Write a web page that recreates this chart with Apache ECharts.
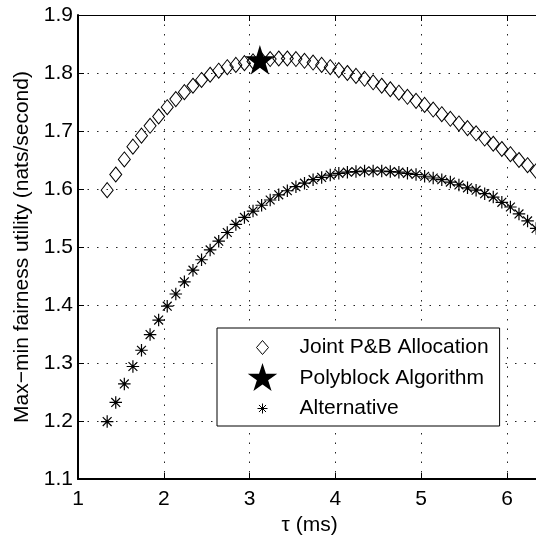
<!DOCTYPE html>
<html>
<head>
<meta charset="utf-8">
<script src="https://cdn.jsdelivr.net/npm/echarts@6/dist/echarts.min.js"></script>
<style>
  html, body { margin: 0; padding: 0; background: #fff; }
  #chart { width: 536px; height: 539px; }
</style>
</head>
<body>
<div id="chart"></div>
<script>
// Frame length tau (ms) at which each scheme was evaluated
const tau = [
  1.34, 1.44, 1.54, 1.64, 1.74, 1.84, 1.94, 2.04, 2.14, 2.24,
  2.34, 2.44, 2.54, 2.64, 2.74, 2.84, 2.94, 3.04, 3.14, 3.24,
  3.34, 3.44, 3.54, 3.64, 3.74, 3.84, 3.94, 4.04, 4.14, 4.24,
  4.34, 4.44, 4.54, 4.64, 4.74, 4.84, 4.94, 5.04, 5.14, 5.24,
  5.34, 5.44, 5.54, 5.64, 5.74, 5.84, 5.94, 6.04, 6.14, 6.24,
  6.34
];

// Max-min fairness utility (nats/second), joint power & bandwidth allocation
const jointPB = [
  1.598, 1.625, 1.651, 1.673, 1.692, 1.709, 1.725, 1.741, 1.755, 1.767,
  1.778, 1.788, 1.797, 1.804, 1.810, 1.814, 1.817, 1.820, 1.822, 1.824,
  1.825, 1.825, 1.824, 1.821, 1.818, 1.814, 1.810, 1.805, 1.800, 1.795,
  1.790, 1.784, 1.778, 1.772, 1.766, 1.759, 1.752, 1.745, 1.737, 1.729,
  1.721, 1.713, 1.705, 1.696, 1.687, 1.678, 1.669, 1.660, 1.650, 1.641,
  1.631
];

// Max-min fairness utility (nats/second), alternative scheme
const alternative = [
  1.199, 1.232, 1.264, 1.294, 1.322, 1.349, 1.374, 1.398, 1.419, 1.440,
  1.460, 1.478, 1.495, 1.510, 1.525, 1.539, 1.551, 1.562, 1.572, 1.581,
  1.590, 1.597, 1.604, 1.610, 1.616, 1.620, 1.624, 1.627, 1.629, 1.630,
  1.631, 1.631, 1.631, 1.630, 1.629, 1.627, 1.625, 1.622, 1.619, 1.616,
  1.612, 1.607, 1.602, 1.598, 1.592, 1.586, 1.577, 1.569, 1.557, 1.545,
  1.532
];

// Optimum found by the polyblock algorithm: [tau, utility]
const polyblockTau = [3.12];
const polyblockUtility = [1.820];

// Axis ranges and tick steps
const xRange = [1, 6.4];
const xStep = 1;
const yRange = [1.1, 1.9];
const yStep = 0.1;

const seriesNames = ['Joint P&B Allocation', 'Polyblock Algorithm', 'Alternative'];
const xName = '\u03c4 (ms)';
const yName = 'Max\u2212min fairness utility (nats/second)';

const FONT = '"Liberation Sans", Arial, Helvetica, sans-serif';

// Marker shapes
const starPath = 'path://M100 200M100 0L122.45 69.1L195.1 69.1L136.3 111.8L158.8 180.9L100 138.2L41.2 180.9L63.7 111.8L4.9 69.1L77.55 69.1Z';
const asteriskPath = 'path://M0 5L10 5M5 0L5 10M1.46 1.46L8.54 8.54M8.54 1.46L1.46 8.54';

// Legend icons drawn inside a fixed 66x30 box so all rows line up
const legendDiamond = 'path://M0 0M66 30M28 15L34 8L40 15L34 22Z';
const legendStar = 'path://M0 0M66 30M34 0L37.48 10.71L48.74 10.71L39.63 17.33L43.11 28.04L34 21.42L24.89 28.04L28.37 17.33L19.26 10.71L30.52 10.71Z';
const legendAsterisk = 'path://M0 0M66 30M29 15L39 15M34 10L34 20M30.46 11.46L37.54 18.54M37.54 11.46L30.46 18.54';

const chart = echarts.init(document.getElementById('chart'), null, { renderer: 'canvas' });

const dotted = { color: '#222', width: 1, type: [1.5, 8] };

chart.setOption({
  animation: false,
  backgroundColor: '#fff',
  textStyle: { fontFamily: FONT },
  grid: { left: 78, top: 15, right: -5.3, bottom: 60, outerBoundsMode: 'none', containLabel: false },
  xAxis: [
    {
      type: 'value', min: xRange[0], max: xRange[1], interval: xStep,
      name: xName, nameLocation: 'middle', nameGap: 27,
      nameTextStyle: { fontFamily: FONT, fontSize: 21, color: '#000' },
      axisLine: { show: true, lineStyle: { color: '#000', width: 2 } },
      axisTick: { show: true, inside: true, length: 6, lineStyle: { color: '#000', width: 1 } },
      axisLabel: {
        fontFamily: FONT, fontSize: 21, color: '#000', margin: 10,
        showMinLabel: true, showMaxLabel: true,
        formatter: v => (Math.abs(v - Math.round(v)) < 1e-9 ? String(Math.round(v)) : '')
      },
      splitLine: { show: true, lineStyle: dotted }
    },
    {
      type: 'value', position: 'top', min: xRange[0], max: xRange[1], interval: xStep,
      axisLine: { show: true, lineStyle: { color: '#000', width: 1 } },
      axisTick: { show: true, inside: true, length: 6, lineStyle: { color: '#000', width: 1 } },
      axisLabel: { show: false },
      splitLine: { show: false }
    }
  ],
  yAxis: {
    type: 'value', min: yRange[0], max: yRange[1], interval: yStep,
    name: yName, nameLocation: 'middle', nameGap: 45,
    nameTextStyle: { fontFamily: FONT, fontSize: 21, color: '#000' },
    axisLine: { show: true, lineStyle: { color: '#000', width: 2 } },
    axisTick: { show: true, inside: true, length: 6, lineStyle: { color: '#000', width: 1 } },
    axisLabel: {
      fontFamily: FONT, fontSize: 21, color: '#000', margin: 5,
      showMinLabel: true, showMaxLabel: true,
      formatter: v => v.toFixed(1)
    },
    splitLine: { show: true, lineStyle: dotted }
  },
  legend: {
    orient: 'vertical', left: 217, top: 328,
    padding: [4, 11, 2, 11],
    itemWidth: 66, itemHeight: 30, itemGap: 0,
    backgroundColor: '#fff', borderColor: '#000', borderWidth: 1, borderRadius: 0,
    selectedMode: false,
    textStyle: { fontFamily: FONT, fontSize: 21, color: '#000' },
    data: [
      { name: seriesNames[0], icon: legendDiamond, itemStyle: { color: '#fff', borderColor: '#000', borderWidth: 1 } },
      { name: seriesNames[1], icon: legendStar, itemStyle: { color: '#000', borderColor: '#000', borderWidth: 0 } },
      { name: seriesNames[2], icon: legendAsterisk, itemStyle: { color: 'rgba(0,0,0,0)', borderColor: '#000', borderWidth: 1 } }
    ]
  },
  series: [
    {
      name: seriesNames[2], type: 'scatter', silent: true, z: 2,
      symbol: asteriskPath, symbolSize: 12.5,
      itemStyle: { color: 'rgba(0,0,0,0)', borderColor: '#000', borderWidth: 1.2, opacity: 1 },
      data: tau.map((t, i) => [t, alternative[i]])
    },
    {
      name: seriesNames[0], type: 'scatter', silent: true, z: 3,
      symbol: 'diamond', symbolSize: [12, 15],
      itemStyle: { color: 'rgba(0,0,0,0)', borderColor: '#000', borderWidth: 1, opacity: 1 },
      data: tau.map((t, i) => [t, jointPB[i]])
    },
    {
      name: seriesNames[1], type: 'scatter', silent: true, z: 4,
      symbol: starPath, symbolSize: [31, 32.6], symbolKeepAspect: true,
      itemStyle: { color: '#000', opacity: 1 },
      data: polyblockTau.map((t, i) => [t, polyblockUtility[i]])
    }
  ]
});
</script>
</body>
</html>
